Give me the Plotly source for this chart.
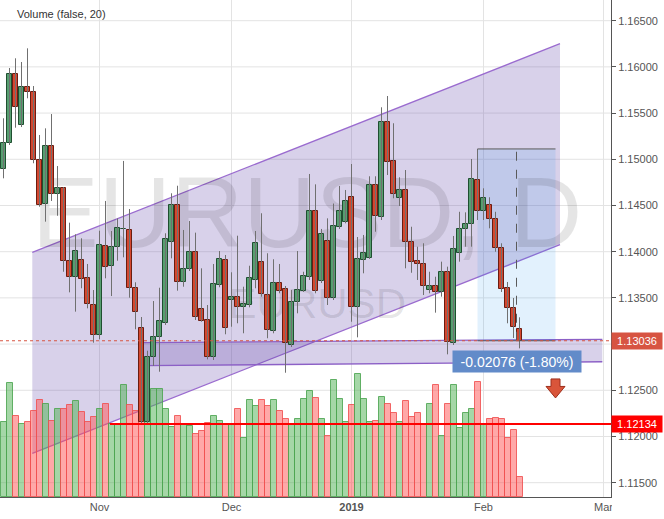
import plotly.graph_objects as go

FONT = "Liberation Sans, Arial, sans-serif"

# ---------------- data ----------------
month_ticks = [16, 38, 58, 80, 100]
month_labels = ["Nov", "Dec", "<b>2019</b>", "Feb", "Mar"]
price_grid = [1.115, 1.120, 1.125, 1.130, 1.135, 1.140, 1.145, 1.150, 1.155, 1.160, 1.165]
price_labels = [1.115, 1.120, 1.125, 1.135, 1.140, 1.145, 1.150, 1.155, 1.160, 1.165]

opens = [1.14892, 1.15173, 1.15920, 1.15366, 1.15779, 1.15725, 1.14992, 1.14513, 1.15144, 1.14621,
         1.14686, 1.13899, 1.13723, 1.13910, 1.13712, 1.13420, 1.13093, 1.14058, 1.13848, 1.14048,
         1.14242, 1.14231, 1.13604, 1.13171, 1.12160, 1.12857, 1.13073, 1.13231, 1.14108, 1.14505,
         1.13675, 1.13813, 1.13997, 1.13376, 1.13261, 1.12857, 1.13639, 1.13907, 1.13474, 1.13506,
         1.13398, 1.13423, 1.13694, 1.13892, 1.13528, 1.13142, 1.13658, 1.13593, 1.12990, 1.13452,
         1.13578, 1.13723, 1.14440, 1.13686, 1.14116, 1.13496, 1.14264, 1.14318, 1.14595, 1.13405,
         1.13910, 1.13937, 1.14719, 1.14379, 1.15400, 1.14981, 1.14578, 1.14668, 1.14108, 1.13899,
         1.13867, 1.13585, 1.13632, 1.13567, 1.13783, 1.13009, 1.13989, 1.14242, 1.14296, 1.14776,
         1.14444, 1.14502, 1.14351, 1.14037, 1.13604, 1.13387, 1.13160]

highs = [1.15444, 1.15988, 1.16093, 1.16053, 1.16201, 1.15793, 1.15263, 1.15335, 1.15490, 1.14927,
         1.14700, 1.14314, 1.14188, 1.14145, 1.13867, 1.13585, 1.14227, 1.14549, 1.14224, 1.14361,
         1.14982, 1.14462, 1.13669, 1.13293, 1.12928, 1.13466, 1.13610, 1.14199, 1.14632, 1.14714,
         1.14235, 1.14332, 1.14206, 1.13820, 1.13423, 1.13867, 1.14007, 1.13964, 1.13777, 1.14173,
         1.13621, 1.13848, 1.14224, 1.14416, 1.13983, 1.13918, 1.13867, 1.13629, 1.13585, 1.14007,
         1.13783, 1.14841, 1.14729, 1.14246, 1.14361, 1.14521, 1.14711, 1.14668, 1.14949, 1.14159,
         1.14181, 1.14816, 1.14816, 1.15563, 1.15685, 1.15390, 1.14805, 1.14884, 1.14270, 1.14054,
         1.14091, 1.13783, 1.13729, 1.13892, 1.13838, 1.14170, 1.14432, 1.14426, 1.15003, 1.15112,
         1.14686, 1.14589, 1.14432, 1.14091, 1.13672, 1.13499, 1.13290]

lows = [1.14794, 1.15155, 1.15342, 1.15349, 1.15660, 1.14957, 1.14487, 1.14325, 1.14549, 1.14389,
        1.13783, 1.13560, 1.13351, 1.13604, 1.13387, 1.13015, 1.13052, 1.13712, 1.13520, 1.13902,
        1.13939, 1.13502, 1.13160, 1.12134, 1.12140, 1.12763, 1.12701, 1.13207, 1.13928, 1.13578,
        1.13621, 1.13791, 1.13261, 1.13242, 1.12835, 1.12828, 1.13615, 1.13106, 1.13188, 1.13225,
        1.13117, 1.13398, 1.13604, 1.13513, 1.13063, 1.13117, 1.13550, 1.12690, 1.12968, 1.13333,
        1.13564, 1.13694, 1.13550, 1.13661, 1.13423, 1.13477, 1.14246, 1.14307, 1.13242, 1.13073,
        1.13766, 1.13921, 1.14216, 1.14343, 1.14830, 1.14578, 1.14494, 1.13820, 1.13772, 1.13694,
        1.13531, 1.13550, 1.13340, 1.13513, 1.12889, 1.12990, 1.13892, 1.14054, 1.14054, 1.14343,
        1.14343, 1.14253, 1.13999, 1.13564, 1.13225, 1.13066, 1.12954]

closes = [1.15173, 1.15920, 1.15563, 1.15779, 1.15725, 1.14992, 1.14502, 1.15144, 1.14621, 1.14686,
          1.13899, 1.13729, 1.14007, 1.13701, 1.13431, 1.13093, 1.14069, 1.13838, 1.14048, 1.14253,
          1.14246, 1.13610, 1.13351, 1.12160, 1.12857, 1.13073, 1.13247, 1.14134, 1.14505, 1.13675,
          1.13809, 1.13997, 1.13290, 1.13253, 1.12857, 1.13647, 1.13918, 1.13177, 1.13506, 1.13398,
          1.13434, 1.13712, 1.14091, 1.13539, 1.13153, 1.13664, 1.13575, 1.13015, 1.13459, 1.13585,
          1.13737, 1.14440, 1.13578, 1.14188, 1.13496, 1.14278, 1.14437, 1.14549, 1.13405, 1.13918,
          1.13983, 1.14719, 1.14390, 1.15409, 1.14974, 1.14621, 1.14668, 1.14108, 1.13892, 1.13863,
          1.13632, 1.13632, 1.13567, 1.13783, 1.13019, 1.14026, 1.14242, 1.14296, 1.14787, 1.14440,
          1.14578, 1.14351, 1.14037, 1.13593, 1.13387, 1.13188, 1.13036]

volumes = [74700, 114000, 80700, 72700, 74700, 85700, 97000, 92700, 76000, 87700,
           87700, 91700, 95700, 84700, 74700, 79700, 87700, 92700, 72700, 72700,
           111700, 91700, 85700, 85700, 90300, 107700, 107700, 87700, 69700, 80700,
           71700, 70700, 62700, 65700, 73700, 80700, 75700, 72700, 72700, 87700,
           59000, 96700, 91000, 96700, 90700, 96700, 85700, 78000, 71700, 78000,
           97700, 105700, 98700, 78000, 60700, 116700, 97700, 74700, 91700, 123000,
           97700, 74700, 75700, 99700, 92700, 83700, 74700, 95700, 79700, 83700,
           71700, 92700, 111700, 60700, 92700, 111700, 68700, 83700, 87700, 114700,
           72700, 77700, 78700, 77700, 58700, 66700, 19700]

last_price = 1.13036
support_price = 1.12134
range_top = 1.15112
range_change = "-0.02076 (-1.80%)"

# ---------------- derived ----------------
idx = list(range(len(opens)))
up = [c >= o for o, c in zip(opens, closes)]

GREEN_BODY, GREEN_EDGE = "#579e70", "#1f4f30"
RED_BODY, RED_EDGE = "#d4472f", "#6a1d12"
VOL_G, VOL_G_EDGE = "rgba(76,175,80,0.5)", "rgba(76,165,80,0.85)"
VOL_R, VOL_R_EDGE = "rgba(255,82,82,0.5)", "rgba(240,80,80,0.85)"
GRID = "#e3e3e3"

fig = go.Figure()

# watermark
fig.add_trace(go.Scatter(x=[50.6], y=[275000], mode="text", text=["EURUSD, D"],
                         textfont=dict(size=100, color="rgba(0,0,0,0.1)", family=FONT),
                         hoverinfo="skip", showlegend=False, yaxis="y"))
fig.add_trace(go.Scatter(x=[52.3], y=[190000], mode="text", text=["EURUSD"],
                         textfont=dict(size=42, color="rgba(0,0,0,0.1)", family=FONT),
                         hoverinfo="skip", showlegend=False, yaxis="y"))

# volume
fig.add_trace(go.Bar(x=idx, y=volumes, width=1.0, yaxis="y",
                     marker=dict(color=[VOL_G if u else VOL_R for u in up],
                                 line=dict(color=[VOL_G_EDGE if u else VOL_R_EDGE for u in up], width=1)),
                     hoverinfo="skip", showlegend=False))

# wicks
wx, wy = [], []
for i, h, l in zip(idx, highs, lows):
    wx += [i, i, None]
    wy += [l, h, None]
fig.add_trace(go.Scatter(x=wx, y=wy, mode="lines", line=dict(color="#707070", width=1),
                         yaxis="y2", hoverinfo="skip", showlegend=False))

# bodies
fig.add_trace(go.Bar(x=idx, base=[min(o, c) for o, c in zip(opens, closes)],
                     y=[abs(c - o) for o, c in zip(opens, closes)], width=0.76, yaxis="y2",
                     marker=dict(color=[GREEN_BODY if u else RED_BODY for u in up],
                                 line=dict(color=[GREEN_EDGE if u else RED_EDGE for u in up], width=1)),
                     hoverinfo="skip", showlegend=False))

shapes = []
# grid lines (drawn as shapes so the drawing fills sit above them)
for p in price_grid:
    shapes.append(dict(type="line", xref="paper", yref="y2", layer="below",
                       x0=0, x1=1, y0=p, y1=p, line=dict(color=GRID, width=1)))
for t in month_ticks:
    shapes.append(dict(type="line", xref="x", yref="paper", layer="below",
                       x0=t, x1=t, y0=0, y1=1, line=dict(color=GRID, width=1)))

CH_FILL = "rgba(100,70,170,0.25)"
CH_LINE = "#9a6bcf"
# parallel channel
ch_x0, ch_x1 = 4.8, 92.75
ch_up0, ch_up1 = 1.13993, 1.16251
ch_lo0, ch_lo1 = 1.11818, 1.14076
shapes.append(dict(type="path", xref="x", yref="y2", layer="below",
                   path=f"M{ch_x0},{ch_up0} L{ch_x1},{ch_up1} L{ch_x1},{ch_lo1} L{ch_x0},{ch_lo0} Z",
                   fillcolor=CH_FILL, line=dict(width=0)))
for a, b in [(ch_up0, ch_up1), (ch_lo0, ch_lo1)]:
    shapes.append(dict(type="line", xref="x", yref="y2", layer="below",
                       x0=ch_x0, x1=ch_x1, y0=a, y1=b, line=dict(color=CH_LINE, width=1.3)))
# horizontal band
bd_x0, bd_x1 = 23.3, 99.8
bd_up0, bd_up1 = 1.13015, 1.13052
bd_lo0, bd_lo1 = 1.12766, 1.12809
shapes.append(dict(type="path", xref="x", yref="y2", layer="below",
                   path=f"M{bd_x0},{bd_up0} L{bd_x1},{bd_up1} L{bd_x1},{bd_lo1} L{bd_x0},{bd_lo0} Z",
                   fillcolor=CH_FILL, line=dict(width=0)))
for a, b in [(bd_up0, bd_up1), (bd_lo0, bd_lo1)]:
    shapes.append(dict(type="line", xref="x", yref="y2", layer="below",
                       x0=bd_x0, x1=bd_x1, y0=a, y1=b, line=dict(color="#8c60c6", width=1.3)))
# price range tool
pr_x0, pr_x1 = 79, 92
shapes.append(dict(type="rect", xref="x", yref="y2", layer="below",
                   x0=pr_x0, x1=pr_x1, y0=last_price, y1=range_top,
                   fillcolor="rgba(33,150,243,0.13)", line=dict(width=0)))
for yy in [range_top, last_price]:
    shapes.append(dict(type="line", xref="x", yref="y2", layer="above",
                       x0=pr_x0, x1=pr_x1, y0=yy, y1=yy, line=dict(color="#5a5a5a", width=1)))
shapes.append(dict(type="line", xref="x", yref="y2", layer="above",
                   x0=(pr_x0 + pr_x1) / 2, x1=(pr_x0 + pr_x1) / 2, y0=last_price, y1=range_top,
                   line=dict(color="#5a5a5a", width=1, dash="dash")))
# last price dotted line
shapes.append(dict(type="line", xref="paper", yref="y2", layer="above",
                   x0=0, x1=1, y0=last_price, y1=last_price,
                   line=dict(color="#d75442", width=1, dash="dot")))
# support ray
shapes.append(dict(type="line", xref="x", yref="y2", layer="above",
                   x0=17.75, x1=101.25, y0=support_price, y1=support_price,
                   line=dict(color="#ff0000", width=2)))
# down arrow marker
shapes.append(dict(type="path", xref="x", yref="y2", xsizemode="pixel", ysizemode="pixel",
                   xanchor=92, yanchor=1.12417, layer="above",
                   path="M0,0 L-9.5,11.5 L-4.5,11.5 L-4.5,19 L4.5,19 L4.5,11.5 L9.5,11.5 Z",
                   fillcolor="#d9553a", line=dict(color="#9e2f1c", width=1)))
# mask clipped "Mar"
shapes.append(dict(type="rect", xref="paper", yref="paper", layer="above",
                   x0=1.0016, x1=1.1, y0=-0.06, y1=-0.003,
                   fillcolor="white", line=dict(width=0)))

annotations = [
    dict(xref="paper", yref="y2", x=1, xanchor="left", y=last_price, text=f"{last_price:.5f}",
         showarrow=False, bgcolor="#d75442", font=dict(color="white", size=11, family=FONT),
         borderpad=2, width=46, height=12),
    dict(xref="paper", yref="y2", x=1, xanchor="left", y=support_price, text=f"{support_price:.5f}",
         showarrow=False, bgcolor="#ff0000", font=dict(color="white", size=11, family=FONT),
         borderpad=2, width=46, height=12),
    dict(xref="x", yref="y2", x=(pr_x0 + pr_x1) / 2, y=last_price, yanchor="top", yshift=-9,
         text=range_change, showarrow=False, bgcolor="#628bc9",
         font=dict(color="white", size=14, family=FONT), borderpad=2, width=124, height=17),
    dict(xref="paper", yref="paper", x=0.0245, y=0.972, xanchor="left", yanchor="middle",
         text="Volume (false, 20)", showarrow=False, font=dict(color="#333333", size=11, family=FONT)),
]

fig.update_layout(
    width=664, height=519,
    margin=dict(l=0, r=53, t=0, b=22),
    paper_bgcolor="white", plot_bgcolor="white",
    showlegend=False, barmode="overlay", bargap=0,
    font=dict(family=FONT),
    xaxis=dict(range=[-0.583, 101.25], tickvals=month_ticks, ticktext=month_labels,
               showgrid=False, zeroline=False,
               showline=True, linecolor="#555555", linewidth=1, ticks="",
               tickfont=dict(size=11, color="#555555", family=FONT), fixedrange=True),
    yaxis=dict(range=[0, 497000], visible=False, showgrid=False, zeroline=False, fixedrange=True),
    yaxis2=dict(range=[1.11345, 1.16724], overlaying="y", side="right", anchor="x",
                tickvals=price_labels, tickformat=".5f", showgrid=False,
                zeroline=False, showline=True, linecolor="#555555", linewidth=1,
                ticks="outside", ticklen=4, tickcolor="#555555",
                tickfont=dict(size=11, color="#555555", family=FONT), fixedrange=True),
    shapes=shapes,
    annotations=annotations,
)

fig.write_html("out.html", config={"displayModeBar": False},
               post_script="document.body.style.margin='0';document.body.style.overflow='hidden';")
